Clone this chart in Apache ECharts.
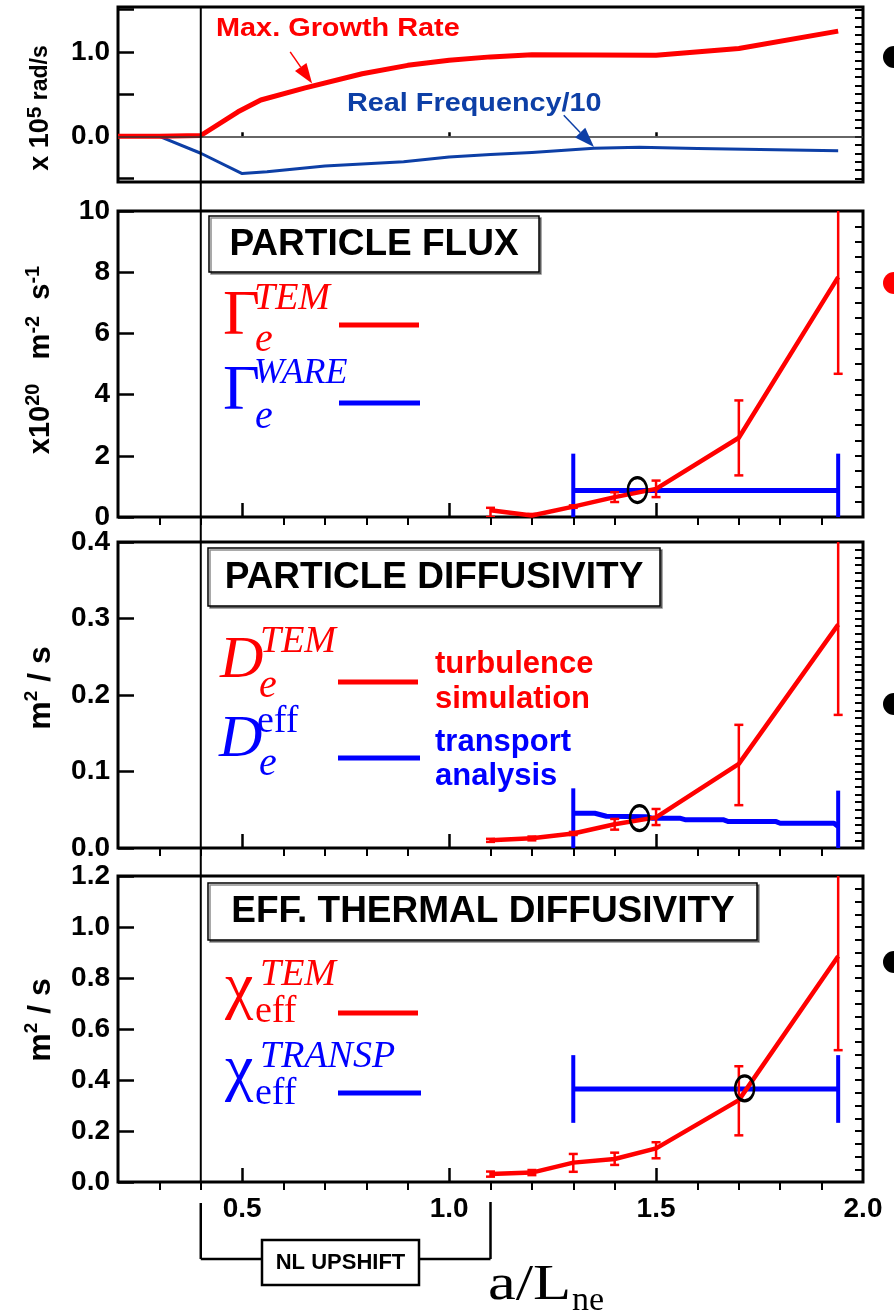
<!DOCTYPE html>
<html>
<head>
<meta charset="utf-8">
<script src="https://cdn.jsdelivr.net/npm/echarts@6/dist/echarts.min.js"></script>
<style>
  html, body { margin: 0; padding: 0; background: #fff; }
  #chart { width: 894px; height: 1314px; }
</style>
</head>
<body>
<div id="chart"></div>
<script>
// ---------- Top panel: max. linear growth rate and real frequency/10 (x 10^5 rad/s)
const growthX = [0.2, 0.3, 0.4, 0.49, 0.545, 0.65, 0.79, 0.9, 1.0, 1.1, 1.2, 1.5, 1.7, 1.94];
const growthY = [0, 0, 0.01, 0.29, 0.43, 0.57, 0.74, 0.84, 0.90, 0.94, 0.965, 0.96, 1.04, 1.245];
const freqX = [0.2, 0.3, 0.4, 0.5, 0.56, 0.7, 0.89, 1.0, 1.1, 1.2, 1.35, 1.46, 1.6, 1.94];
const freqY = [0, 0, -0.2, -0.44, -0.42, -0.35, -0.30, -0.245, -0.215, -0.19, -0.14, -0.13, -0.145, -0.17];

// ---------- Nonlinear TEM simulations (value, lower and upper error)
const simX = [1.1, 1.2, 1.3, 1.4, 1.5, 1.7, 1.94];
const fluxTEM = [0.22, 0.05, 0.34, 0.65, 0.92, 2.59, 7.84];
const fluxLo  = [0.0, 0.0, 0.30, 0.49, 0.65, 1.36, 4.68];
const fluxHi  = [0.30, 0.10, 0.38, 0.81, 1.19, 3.81, 10.9];
const diffTEM = [0.010, 0.0127, 0.019, 0.031, 0.040, 0.110, 0.292];
const diffLo  = [0.008, 0.010, 0.017, 0.024, 0.030, 0.056, 0.174];
const diffHi  = [0.012, 0.015, 0.021, 0.038, 0.051, 0.161, 0.41];
const chiTEM  = [0.031, 0.037, 0.076, 0.090, 0.132, 0.321, 0.885];
const chiLo   = [0.021, 0.027, 0.040, 0.067, 0.093, 0.183, 0.517];
const chiHi   = [0.041, 0.047, 0.110, 0.115, 0.156, 0.454, 1.25];

// ---------- Transport analysis
const analysisEdges = [1.3, 1.94];
const fluxWare = 0.87;
const fluxWareSpan = [0, 2.07];
const diffEffX = [1.3, 1.352, 1.38, 1.477, 1.49, 1.557, 1.57, 1.662, 1.675, 1.79, 1.8, 1.93, 1.94];
const diffEffY = [0.0454, 0.0454, 0.0415, 0.041, 0.039, 0.039, 0.037, 0.037, 0.0345, 0.0345, 0.0323, 0.0323, 0.028];
const diffEffSpanL = [0, 0.078];
const diffEffSpanR = [0, 0.075];
const chiTransp = 0.365;
const chiTranspSpan = [0.232, 0.4975];

// ---------- Points where simulation meets analysis
const fluxMatch = [1.455, 0.88];
const diffMatch = [1.46, 0.039];
const chiMatch = [1.714, 0.367];

// ---------- Annotation arrows in the top panel (data units)
const growthArrow = [[0.616, 1.0], [0.669, 0.625]];
const freqArrow = [[1.277, 0.249], [1.35, -0.127]];

// ---------- Axis labels
const xTickLabels = [0.5, 1.0, 1.5, 2.0];
const rateTickLabels = [0.0, 1.0];
const fluxTickLabels = [0, 2, 4, 6, 8, 10];
const diffTickLabels = [0.0, 0.1, 0.2, 0.3, 0.4];
const chiTickLabels = [0.0, 0.2, 0.4, 0.6, 0.8, 1.0, 1.2];
const nlUpshift = [0.4, 1.1];

const SANS = "'Liberation Sans', Arial, Helvetica, sans-serif";
const SERIF = "'Liberation Serif', 'Times New Roman', serif";
const RED = '#ff0000', BLUE = '#0000ff', NAVY = '#0d3fa6';

const zip = (xs, ys) => xs.map((x, i) => [x, ys[i]]);
function steps(a, b, step, skip) {
  const out = [];
  const n = Math.round((b - a) / step);
  for (let k = 0; k <= n; k++) {
    const v = +(a + k * step).toFixed(4);
    if (!skip || !skip.some(s => Math.abs(s - v) < 1e-6)) out.push(v);
  }
  return out;
}

const gridBoxes = [
  { top: 7, height: 175 },
  { top: 211, height: 306 },
  { top: 542, height: 306 },
  { top: 876, height: 306 }
];
const grid = gridBoxes.map(g => ({
  left: 118, width: 745, top: g.top, height: g.height,
  show: true, borderColor: '#000', borderWidth: 3, backgroundColor: 'transparent'
}));

const labelStyle = { fontFamily: SANS, fontWeight: 'bold', fontSize: 28, color: '#000' };

// two x axes per panel: major ticks (+labels) and minor ticks
const xAxis = [];
for (let i = 0; i < 4; i++) {
  xAxis.push({
    gridIndex: i, type: 'value', min: 0.2, max: 2.0,
    axisLine: { show: false }, splitLine: { show: false },
    axisTick: { show: true, inside: true, length: i === 0 ? 4 : 14,
      lineStyle: { color: '#000', width: 2.5 }, customValues: [0.5, 1.0, 1.5] },
    axisLabel: i === 3 ? Object.assign({ show: true, customValues: xTickLabels,
      formatter: v => v.toFixed(1), margin: 13, hideOverlap: false }, labelStyle) : { show: false }
  });
  xAxis.push({
    gridIndex: i, type: 'value', min: 0.2, max: 2.0,
    axisLine: { show: false }, splitLine: { show: false },
    axisTick: { show: i !== 0, inside: true, length: 8,
      lineStyle: { color: '#000', width: 2 }, customValues: steps(0.3, 1.9, 0.1, [0.5, 1.0, 1.5]) },
    axisLabel: { show: false }
  });
}

const yDefs = [
  { min: -0.54, max: 1.53, major: steps(-0.5, 1.5, 0.5), minor: steps(-0.5, 1.5, 0.1), labels: rateTickLabels, fmt: v => v.toFixed(1) },
  { min: 0, max: 10, major: steps(0, 10, 2), minor: steps(0, 10, 0.5), labels: fluxTickLabels, fmt: v => String(v) },
  { min: 0, max: 0.4, major: steps(0, 0.4, 0.1), minor: steps(0, 0.4, 0.01), labels: diffTickLabels, fmt: v => v.toFixed(1) },
  { min: 0, max: 1.2, major: steps(0, 1.2, 0.2), minor: steps(0, 1.2, 0.05), labels: chiTickLabels, fmt: v => v.toFixed(1) }
];
const yAxis = [];
yDefs.forEach((d, i) => {
  yAxis.push({
    gridIndex: i, type: 'value', min: d.min, max: d.max,
    axisLine: { show: false }, splitLine: { show: false },
    axisTick: { show: true, inside: true, length: 16, lineStyle: { color: '#000', width: 2.5 }, customValues: d.major },
    axisLabel: Object.assign({ show: true, customValues: d.labels, formatter: d.fmt, margin: 8,
      hideOverlap: false }, labelStyle)
  });
  yAxis.push({
    gridIndex: i, type: 'value', min: d.min, max: d.max,
    axisLine: { show: false }, splitLine: { show: false },
    axisTick: { show: true, inside: true, length: 8, lineStyle: { color: '#000', width: 2 }, customValues: d.minor },
    axisLabel: { show: false }
  });
});

// vertical bars from lo to hi, with optional caps
function barSeries(panel, rows, color, width, capHalf, z) {
  return {
    type: 'custom', xAxisIndex: panel * 2, yAxisIndex: panel * 2, clip: true, silent: true, z: z,
    data: rows,
    renderItem(params, api) {
      const xv = api.value(0);
      const a = api.coord([xv, api.value(1)]);
      const b = api.coord([xv, api.value(2)]);
      const style = { stroke: color, lineWidth: width, fill: null };
      const kids = [{ type: 'line', shape: { x1: a[0], y1: a[1], x2: b[0], y2: b[1] }, style }];
      if (capHalf > 0) {
        kids.push({ type: 'line', shape: { x1: a[0] - capHalf, y1: a[1], x2: a[0] + capHalf, y2: a[1] }, style });
        kids.push({ type: 'line', shape: { x1: b[0] - capHalf, y1: b[1], x2: b[0] + capHalf, y2: b[1] }, style });
      }
      return { type: 'group', children: kids };
    }
  };
}
function lineSeries(panel, data, color, width, z, extra) {
  return Object.assign({
    type: 'line', xAxisIndex: panel * 2, yAxisIndex: panel * 2, data: data,
    showSymbol: false, symbol: 'none', silent: true, z: z,
    lineStyle: { color: color, width: width, cap: 'butt', join: 'round' }
  }, extra || {});
}
function matchSeries(panel, pt) {
  return {
    type: 'scatter', xAxisIndex: panel * 2, yAxisIndex: panel * 2, data: [pt], z: 8, silent: true,
    symbol: 'circle', symbolSize: [19, 25],
    itemStyle: { color: 'rgba(0,0,0,0)', borderColor: '#000', borderWidth: 2.8, opacity: 1 }
  };
}
function arrowSeries(seg, color) {
  return {
    type: 'custom', xAxisIndex: 0, yAxisIndex: 0, silent: true, z: 6,
    data: [[seg[0][0], seg[0][1], seg[1][0], seg[1][1]]],
    renderItem(params, api) {
      const a = api.coord([api.value(0), api.value(1)]);
      const b = api.coord([api.value(2), api.value(3)]);
      const dx = b[0] - a[0], dy = b[1] - a[1], L = Math.hypot(dx, dy);
      const ux = dx / L, uy = dy / L, nx = -uy, ny = ux;
      const head = 20, half = 7;
      const bx = b[0] - ux * head, by = b[1] - uy * head;
      return { type: 'group', children: [
        { type: 'line', shape: { x1: a[0], y1: a[1], x2: bx, y2: by }, style: { stroke: color, lineWidth: 1.5 } },
        { type: 'polygon', shape: { points: [[b[0], b[1]], [bx + nx * half, by + ny * half], [bx - nx * half, by - ny * half]] },
          style: { fill: color } }
      ] };
    }
  };
}

const series = [
  // top panel
  lineSeries(0, zip(freqX, freqY), NAVY, 3, 2, {
    markLine: { silent: true, symbol: ['none', 'none'], animation: false, label: { show: false },
      lineStyle: { color: '#333', width: 1.5, type: 'solid' }, data: [{ yAxis: 0 }] }
  }),
  lineSeries(0, zip(growthX, growthY), RED, 5, 3),
  arrowSeries(growthArrow, RED),
  arrowSeries(freqArrow, NAVY),

  // particle flux
  barSeries(1, analysisEdges.map(x => [x, fluxWareSpan[0], fluxWareSpan[1]]), BLUE, 4, 0, 2),
  lineSeries(1, analysisEdges.map(x => [x, fluxWare]), BLUE, 5, 2),
  barSeries(1, simX.map((x, i) => [x, fluxLo[i], fluxHi[i]]), RED, 2.5, 4.5, 3),
  lineSeries(1, zip(simX, fluxTEM), RED, 4.5, 4),
  matchSeries(1, fluxMatch),

  // particle diffusivity
  barSeries(2, [[analysisEdges[0], diffEffSpanL[0], diffEffSpanL[1]], [analysisEdges[1], diffEffSpanR[0], diffEffSpanR[1]]], BLUE, 4, 0, 2),
  lineSeries(2, zip(diffEffX, diffEffY), BLUE, 5, 2),
  barSeries(2, simX.map((x, i) => [x, diffLo[i], diffHi[i]]), RED, 2.5, 4.5, 3),
  lineSeries(2, zip(simX, diffTEM), RED, 4.5, 4),
  matchSeries(2, diffMatch),

  // effective thermal diffusivity
  barSeries(3, analysisEdges.map(x => [x, chiTranspSpan[0], chiTranspSpan[1]]), BLUE, 4, 0, 2),
  lineSeries(3, analysisEdges.map(x => [x, chiTransp]), BLUE, 5, 2),
  barSeries(3, simX.map((x, i) => [x, chiLo[i], chiHi[i]]), RED, 2.5, 4.5, 3),
  lineSeries(3, zip(simX, chiTEM), RED, 4.5, 4),
  matchSeries(3, chiMatch)
];

const chart = echarts.init(document.getElementById('chart'), null, { renderer: 'canvas' });
chart.setOption({ animation: false, backgroundColor: '#fff', grid, xAxis, yAxis, series });

// ---------- text, legends and decorations
function text(x, y, str, o) {
  o = o || {};
  return {
    type: 'text', x: x, y: y, z: 100, silent: true,
    scaleX: o.scaleX || 1, rotation: o.rotation || 0,
    style: {
      text: str, fill: o.color || '#000',
      fontFamily: o.family || SANS, fontSize: o.size || 28,
      fontWeight: o.weight || 'normal', fontStyle: o.style || 'normal',
      align: o.align || 'left', textAlign: o.align || 'left',
      verticalAlign: 'middle', textVerticalAlign: 'middle',
      rich: o.rich
    }
  };
}
function seg(x1, y1, x2, y2, color, w) {
  return { type: 'line', z: 100, silent: true, shape: { x1, y1, x2, y2 }, style: { stroke: color, lineWidth: w } };
}
function box(x, y, w, h) {
  return { type: 'rect', z: 90, silent: true, shape: { x, y, width: w, height: h },
    style: { fill: '#fff', stroke: '#000', lineWidth: 1.5,
      shadowColor: 'rgba(0,0,0,0.45)', shadowOffsetX: 2, shadowOffsetY: 2, shadowBlur: 0 } };
}
function rotLabel(x, y, str, rich) {
  return text(x, y, str, { rotation: Math.PI / 2, align: 'center', rich: rich, weight: 'bold' });
}
const supRich = (main, sup, small) => ({
  m: { fontFamily: SANS, fontWeight: 'bold', fontSize: main, lineHeight: main + 6, verticalAlign: 'middle', color: '#000' },
  r: { fontFamily: SANS, fontWeight: 'bold', fontSize: small || main, lineHeight: main + 6, verticalAlign: 'middle', color: '#000' },
  s: { fontFamily: SANS, fontWeight: 'bold', fontSize: sup, lineHeight: sup, verticalAlign: 'top', color: '#000' }
});

const x04 = chart.convertToPixel({ xAxisIndex: 0 }, nlUpshift[0]);
const x11 = chart.convertToPixel({ xAxisIndex: 6 }, nlUpshift[1]);
const top1 = gridBoxes[0].top, bot4 = gridBoxes[3].top + gridBoxes[3].height;

const gfx = [
  // NL upshift onset line through all panels
  seg(x04, top1, x04, bot4, '#000', 2),
  // NL upshift bracket below the x axis
  seg(x04, 1203, x04, 1259, '#000', 2.5),
  seg(x04, 1259, 262, 1259, '#000', 2.5),
  seg(419, 1259, x11, 1259, '#000', 2.5),
  seg(x11, 1259, x11, 1202, '#000', 2.5),
  { type: 'rect', z: 100, silent: true, shape: { x: 262, y: 1240, width: 157, height: 45 },
    style: { fill: '#fff', stroke: '#000', lineWidth: 2.5 } },
  text(340.5, 1263, 'NL UPSHIFT', { size: 22, weight: 'bold', align: 'center' }),
  // x axis title
  text(488, 1286, 'a/L', { family: SERIF, size: 50, scaleX: 1.25 }),
  text(572, 1301, 'ne', { family: SERIF, size: 34, scaleX: 1.0 }),

  // y axis titles
  rotLabel(41, 108, '{m|x 10}{s|5}{r| rad/s}', supRich(27, 21, 23)),
  rotLabel(41, 360, '{m|x10}{s|20}{m|   m}{s|-2}{m|  s}{s|-1}', supRich(29, 20)),
  rotLabel(41, 688, '{m|m}{s|2}{m| / s}', supRich(32, 19)),
  rotLabel(41, 1020, '{m|m}{s|2}{m| / s}', supRich(32, 19)),

  // top panel annotations
  text(216, 29, 'Max. Growth Rate', { size: 26, weight: 'bold', color: RED, scaleX: 1.11 }),
  text(347, 104, 'Real Frequency/10', { size: 25.5, weight: 'bold', color: NAVY, scaleX: 1.13 }),

  // particle flux legend
  box(209, 216, 330, 56),
  text(374, 245, 'PARTICLE FLUX', { size: 37, weight: 'bold', align: 'center' }),
  text(223, 317, 'Γ', { family: SERIF, size: 64, color: RED }),
  text(254, 299, 'TEM', { family: SERIF, size: 38, style: 'italic', color: RED }),
  text(255, 340, 'e', { family: SERIF, size: 40, style: 'italic', color: RED }),
  seg(339, 325, 419, 325, RED, 5),
  text(223, 392, 'Γ', { family: SERIF, size: 64, color: BLUE }),
  text(254, 374, 'WARE', { family: SERIF, size: 36, style: 'italic', color: BLUE }),
  text(255, 417, 'e', { family: SERIF, size: 40, style: 'italic', color: BLUE }),
  seg(339, 403, 420, 403, BLUE, 5),

  // particle diffusivity legend
  box(208, 548, 452, 58),
  text(434, 578, 'PARTICLE DIFFUSIVITY', { size: 37, weight: 'bold', align: 'center' }),
  text(220, 661, 'D', { family: SERIF, size: 60, style: 'italic', color: RED }),
  text(260, 642, 'TEM', { family: SERIF, size: 38, style: 'italic', color: RED }),
  text(259, 686, 'e', { family: SERIF, size: 40, style: 'italic', color: RED }),
  seg(338, 682, 418, 682, RED, 5),
  text(435, 664, 'turbulence', { size: 31, weight: 'bold', color: RED }),
  text(435, 699, 'simulation', { size: 31, weight: 'bold', color: RED }),
  text(219, 740, 'D', { family: SERIF, size: 60, style: 'italic', color: BLUE }),
  text(257, 722, 'eff', { family: SERIF, size: 38, color: BLUE }),
  text(259, 764, 'e', { family: SERIF, size: 40, style: 'italic', color: BLUE }),
  seg(338, 758, 420, 758, BLUE, 5),
  text(435, 742, 'transport', { size: 31, weight: 'bold', color: BLUE }),
  text(435, 776, 'analysis', { size: 31, weight: 'bold', color: BLUE }),

  // thermal diffusivity legend
  box(208, 883, 549, 57),
  text(483, 912, 'EFF. THERMAL DIFFUSIVITY', { size: 37, weight: 'bold', align: 'center' }),
  text(225, 989, 'χ', { family: SERIF, size: 64, color: RED }),
  text(255, 1012, 'eff', { family: SERIF, size: 38, color: RED }),
  text(260, 975, 'TEM', { family: SERIF, size: 38, style: 'italic', color: RED }),
  seg(338, 1013, 418, 1013, RED, 5),
  text(225, 1071, 'χ', { family: SERIF, size: 64, color: BLUE }),
  text(255, 1094, 'eff', { family: SERIF, size: 38, color: BLUE }),
  text(260, 1057, 'TRANSP', { family: SERIF, size: 38, style: 'italic', color: BLUE }),
  seg(338, 1093, 421, 1093, BLUE, 5),

  // bullets at the right edge
  { type: 'circle', z: 100, silent: true, shape: { cx: 894, cy: 57, r: 11 }, style: { fill: '#000' } },
  { type: 'circle', z: 100, silent: true, shape: { cx: 894, cy: 283, r: 11 }, style: { fill: RED } },
  { type: 'circle', z: 100, silent: true, shape: { cx: 894, cy: 704, r: 11 }, style: { fill: '#000' } },
  { type: 'circle', z: 100, silent: true, shape: { cx: 894, cy: 962, r: 11 }, style: { fill: '#000' } }
];
chart.setOption({ graphic: { elements: gfx } });
</script>
</body>
</html>
